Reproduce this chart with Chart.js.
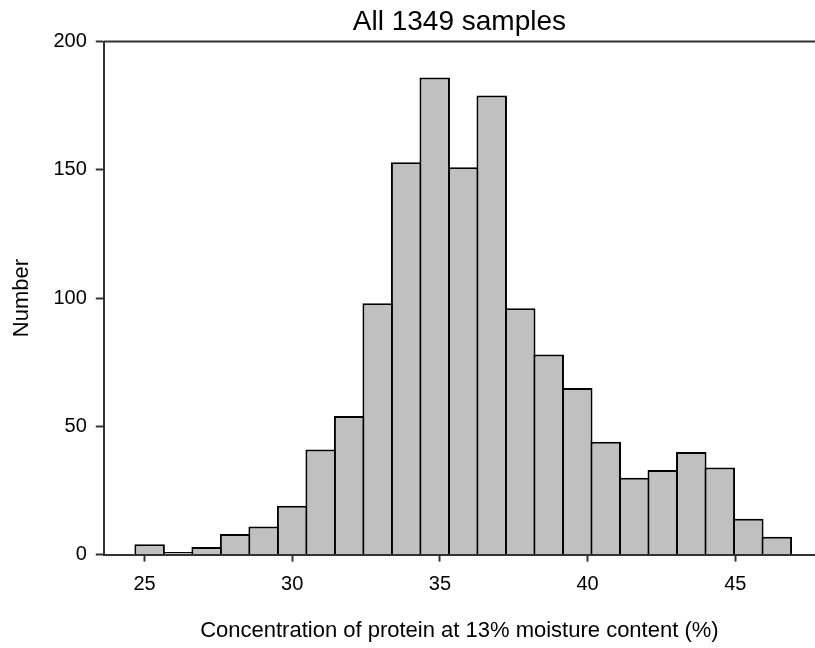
<!DOCTYPE html>
<html>
<head>
<meta charset="utf-8">
<title>Protein concentration histogram</title>
<script src="https://cdn.jsdelivr.net/npm/chart.js@4.4.1/dist/chart.umd.min.js"></script>
<style>
  body { margin: 0; background: #fff; }
  #wrap { width: 815px; height: 648px; }
</style>
</head>
<body>
<div id="wrap"><canvas id="hist" width="815" height="648"></canvas></div>
<script>
// bin centres (% protein) and counts
const binCenters = [25.173, 26.138, 27.103, 28.068, 29.033, 29.999, 30.964, 31.929, 32.894, 33.859, 34.825, 35.790,
                    36.755, 37.720, 38.685, 39.651, 40.616, 41.581, 42.546, 43.511, 44.477, 45.442, 46.407];
const counts = [4, 1, 3, 8, 11, 19, 41, 54, 98, 153, 186, 151, 179, 96, 78, 65, 44, 30, 33, 40, 34, 14, 7];
const xTicks = [25, 30, 35, 40, 45];
const yTicks = [0, 50, 100, 150, 200];

Chart.defaults.color = '#000';
Chart.defaults.font.family = '"Liberation Sans", Arial, sans-serif';

// top frame line like the original plot
const topFrame = {
  id: 'topFrame',
  afterDraw(chart) {
    const { ctx, chartArea } = chart;
    ctx.save();
    ctx.strokeStyle = '#333';
    ctx.lineWidth = 2;
    ctx.beginPath();
    ctx.moveTo(chartArea.left, chartArea.top);
    ctx.lineTo(chartArea.right, chartArea.top);
    ctx.stroke();
    ctx.restore();
  }
};

const ctx = document.getElementById('hist').getContext('2d');
new Chart(ctx, {
  type: 'bar',
  data: {
    datasets: [{
      label: 'Number',
      data: binCenters.map((c, i) => ({ x: c, y: counts[i] })),
      backgroundColor: '#c0c0c0',
      borderColor: '#000',
      borderWidth: 2,
      barPercentage: 1.07,
      categoryPercentage: 1
    }]
  },
  options: {
    responsive: false,
    animation: false,
    layout: { padding: { left: 0, right: 0, top: 0, bottom: 0 } },
    plugins: {
      legend: { display: false },
      tooltip: { enabled: false },
      title: {
        display: true,
        text: 'All 1349 samples',
        fullSize: false,
        font: { size: 28, weight: 'normal' },
        padding: { top: 5, bottom: 3 }
      }
    },
    scales: {
      x: {
        type: 'linear',
        min: 23.62,
        max: 47.7,
        offset: false,
        afterBuildTicks: (axis) => { axis.ticks = xTicks.map(v => ({ value: v })); },
        grid: { display: true, offset: false, drawOnChartArea: false, drawTicks: true, tickLength: 7, tickColor: '#333', tickWidth: 2 },
        border: { display: true, color: '#333', width: 2 },
        ticks: { font: { size: 20 }, padding: 11, maxRotation: 0 },
        title: {
          display: true,
          text: 'Concentration of protein at 13% moisture content (%)',
          font: { size: 22 },
          padding: { top: 10, bottom: 4 }
        }
      },
      y: {
        min: 0,
        max: 200,
        afterBuildTicks: (axis) => { axis.ticks = yTicks.map(v => ({ value: v })); },
        grid: { display: true, drawOnChartArea: false, drawTicks: true, tickLength: 8, tickColor: '#333', tickWidth: 2 },
        border: { display: true, color: '#333', width: 2 },
        ticks: { font: { size: 20 }, padding: 9 },
        title: {
          display: true,
          text: 'Number',
          font: { size: 22 },
          padding: { top: 9, bottom: 9 }
        }
      }
    }
  },
  plugins: [topFrame]
});
</script>
</body>
</html>
